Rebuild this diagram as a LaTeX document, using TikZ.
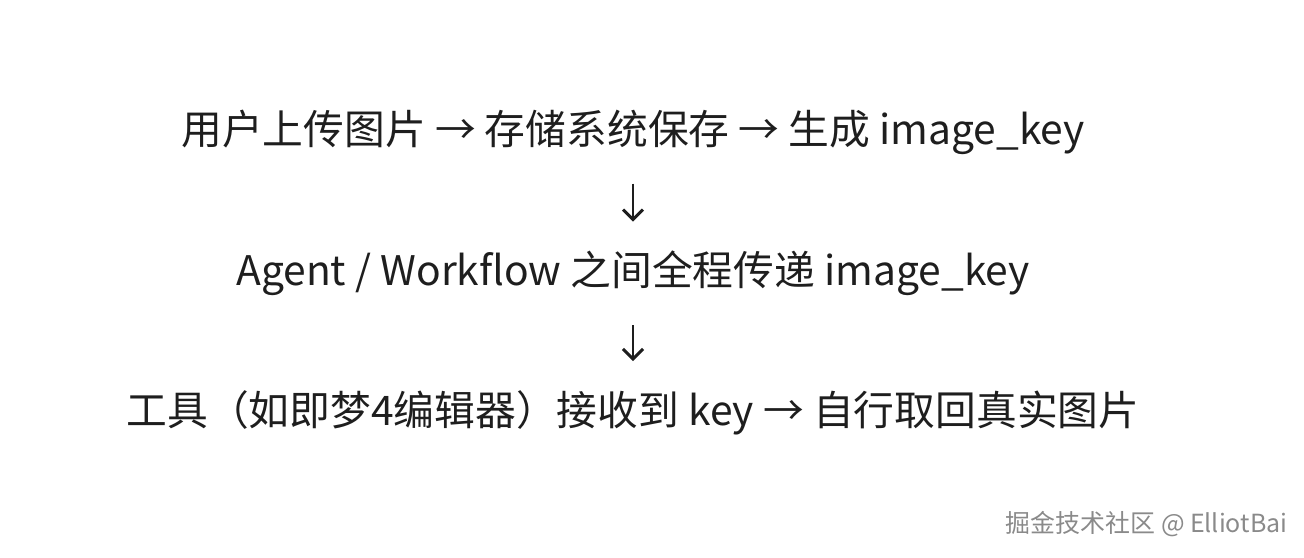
\documentclass[tikz,border=0pt]{standalone}
\usepackage{fontspec}
\setmainfont{Noto Sans CJK SC}
\usepackage{tikz}
\usetikzlibrary{arrows.meta,positioning}
\definecolor{InkDark}{HTML}{1E1E1E}
\definecolor{MarkGray}{HTML}{8A8A8A}
\tikzset{
  flowline/.style={inner sep=0pt,minimum height=10.2mm,font=\fontsize{11.6}{13}\selectfont,text=InkDark},
  downarrow/.style={-{Straight Barb[length=1mm,width=2mm]},line width=0.85pt,draw=InkDark},
  watermark/.style={inner sep=0pt,anchor=east,font=\fontsize{7.1}{8}\selectfont,text=MarkGray}
}
\begin{document}
\begin{tikzpicture}
\useasboundingbox (0,0) rectangle (13.04,-5.58);
\node[flowline] (upload) at (6.33,-1.32) {用户上传图片 → 存储系统保存 → 生成 image\_key};
\node[flowline,below=3.8mm of upload] (relay) {Agent / Workflow 之间全程传递 image\_key};
\node[flowline,below=3.6mm of relay] (fetch) {工具（如即梦4编辑器）接收到 key → 自行取回真实图片};
\draw[downarrow] (upload.south) -- (relay.north);
\draw[downarrow] (relay.south) -- (fetch.north);
% watermark
\node[watermark] (credit) at (12.88,-5.24) {掘金技术社区 @ ElliotBai};
\end{tikzpicture}
\end{document}
